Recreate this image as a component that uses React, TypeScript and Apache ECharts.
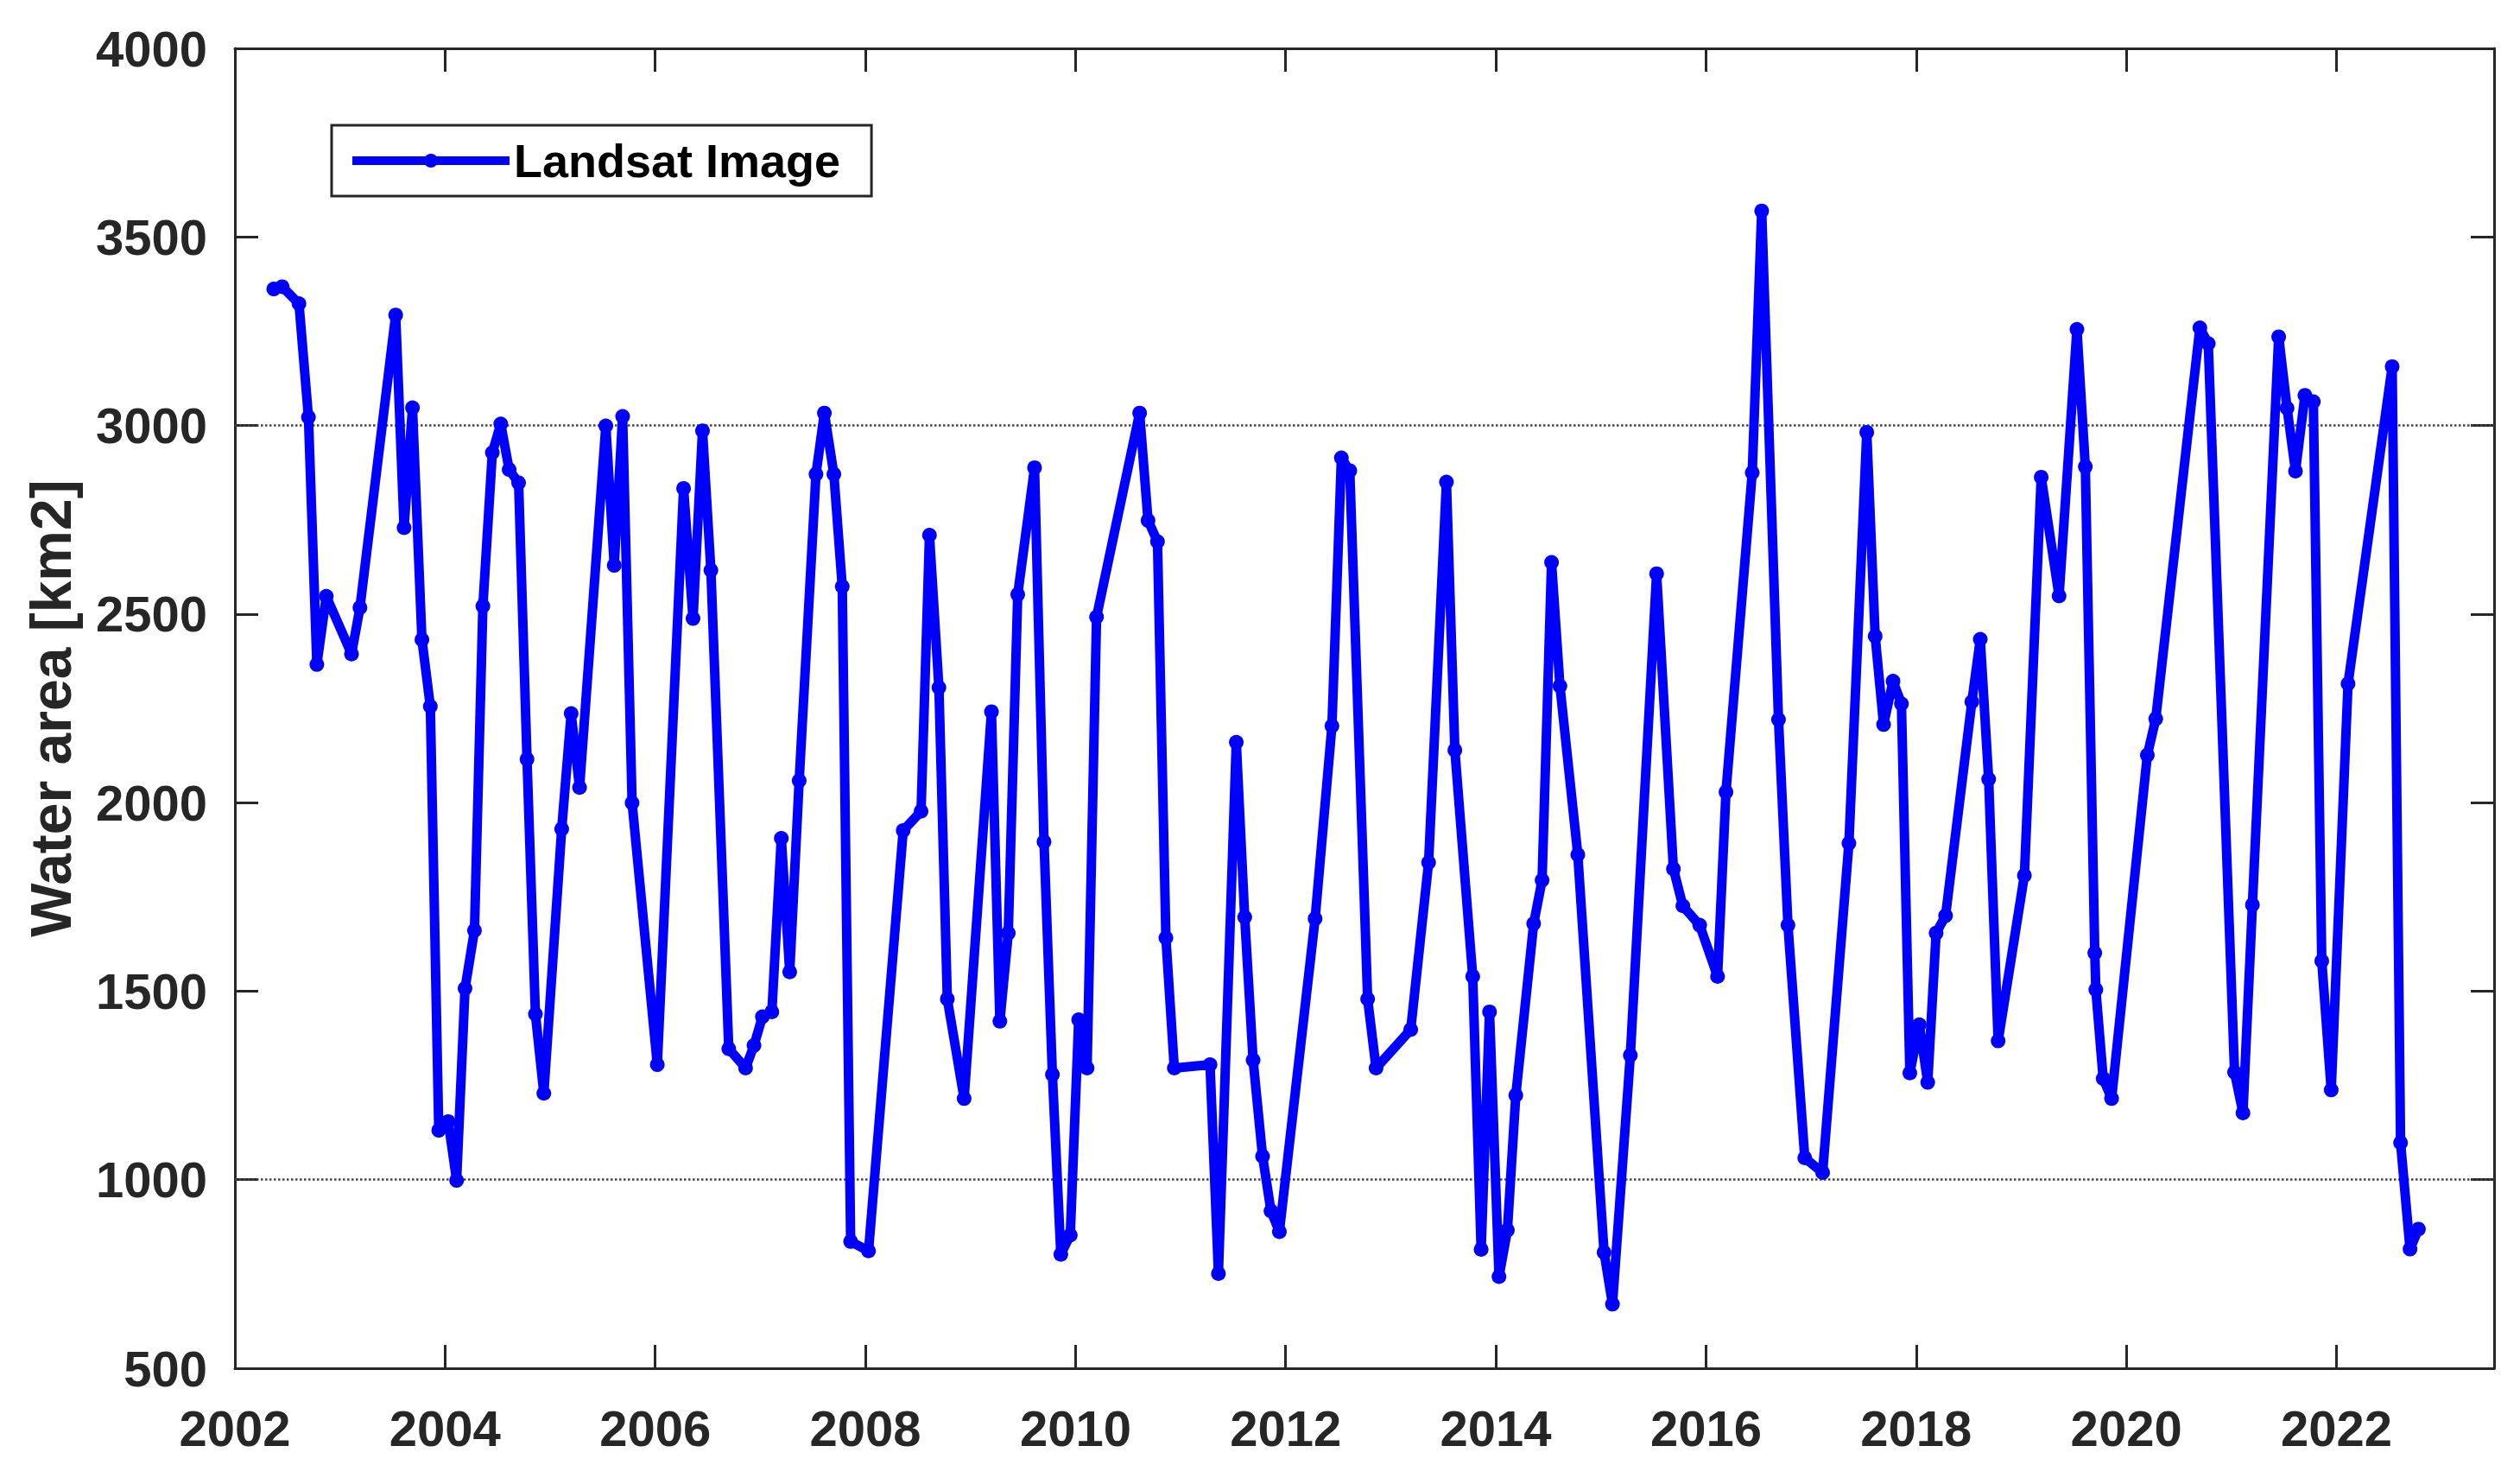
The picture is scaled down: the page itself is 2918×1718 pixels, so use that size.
import React, { useEffect, useRef } from "react";
import * as echarts from "echarts";

const years: number[] = [
  2002.37, 2002.45, 2002.61, 2002.70, 2002.78, 2002.87, 2003.11, 2003.19, 2003.53, 2003.61,
  2003.69, 2003.78, 2003.86, 2003.94, 2004.03, 2004.11, 2004.19, 2004.28, 2004.36, 2004.45,
  2004.53, 2004.61, 2004.70, 2004.78, 2004.86, 2004.94, 2005.11, 2005.20, 2005.28, 2005.53,
  2005.61, 2005.69, 2005.78, 2006.02, 2006.27, 2006.36, 2006.45, 2006.53, 2006.70, 2006.86,
  2006.94, 2007.02, 2007.11, 2007.20, 2007.28, 2007.37, 2007.53, 2007.61, 2007.70, 2007.78,
  2007.86, 2008.03, 2008.36, 2008.53, 2008.61, 2008.70, 2008.78, 2008.94, 2009.20, 2009.28,
  2009.36, 2009.45, 2009.61, 2009.70, 2009.78, 2009.86, 2009.95, 2010.03, 2010.11, 2010.20,
  2010.61, 2010.69, 2010.78, 2010.86, 2010.94, 2011.28, 2011.36, 2011.53, 2011.61, 2011.69,
  2011.78, 2011.86, 2011.94, 2012.28, 2012.44, 2012.53, 2012.61, 2012.78, 2012.86, 2013.19,
  2013.36, 2013.53, 2013.61, 2013.78, 2013.86, 2013.94, 2014.03, 2014.11, 2014.19, 2014.36,
  2014.44, 2014.53, 2014.61, 2014.78, 2015.03, 2015.11, 2015.28, 2015.53, 2015.69, 2015.78,
  2015.94, 2016.11, 2016.19, 2016.44, 2016.53, 2016.69, 2016.78, 2016.94, 2017.11, 2017.36,
  2017.53, 2017.61, 2017.69, 2017.78, 2017.86, 2017.94, 2018.03, 2018.11, 2018.19, 2018.28,
  2018.53, 2018.61, 2018.69, 2018.78, 2019.03, 2019.19, 2019.36, 2019.53, 2019.61, 2019.70,
  2019.71, 2019.78, 2019.86, 2020.20, 2020.28, 2020.70, 2020.78, 2021.03, 2021.11, 2021.20,
  2021.45, 2021.53, 2021.61, 2021.70, 2021.78, 2021.86, 2021.95, 2022.11, 2022.53, 2022.61,
  2022.70, 2022.78,
];

const waterArea: number[] = [
  3362, 3368, 3323, 3022, 2366, 2547, 2394, 2517, 3293, 2729,
  3047, 2432, 2255, 1131, 1154, 998, 1507, 1661, 2521, 2928,
  3004, 2883, 2848, 2115, 1439, 1229, 1930, 2236, 2040, 2999,
  2629, 3024, 1999, 1305, 2833, 2488, 2986, 2616, 1347, 1296,
  1356, 1432, 1445, 1905, 1551, 2058, 2871, 3033, 2871, 2573,
  836, 811, 1926, 1977, 2709, 2305, 1479, 1215, 2241, 1420,
  1654, 2552, 2888, 1896, 1279, 802, 853, 1424, 1296, 2492,
  3033, 2748, 2692, 1641, 1296, 1305, 751, 2160, 1696, 1317,
  1062, 917, 862, 1692, 2203, 2914, 2880, 1479, 1296, 1398,
  1841, 2850, 2139, 1539, 815, 1445, 743, 866, 1224, 1679,
  1794, 2637, 2309, 1862, 807, 670, 1330, 2607, 1824, 1726,
  1675, 1539, 2028, 2875, 3569, 2220, 1675, 1058, 1019, 1892,
  2982, 2441, 2207, 2322, 2262, 1283, 1411, 1258, 1654, 1700,
  2267, 2433, 2062, 1368, 1807, 2863, 2548, 3255, 2891, 1601,
  1504, 1268, 1215, 2126, 2222, 3259, 3217, 1285, 1177, 1729,
  3235, 3046, 2879, 3080, 3063, 1580, 1238, 2315, 3156, 1098,
  816, 869,
];

const refLines: number[] = [1000, 3000];

const seriesName = "Landsat Image";
const yAxisTitle = "Water area [km2]";

const FONT = "'Liberation Sans', Arial, Helvetica, sans-serif";
const AXIS_COLOR = "#262626";
const BLUE = "#0000ff";

export default function App() {
  const ref = useRef<HTMLDivElement>(null);

  useEffect(() => {
    if (!ref.current) return;
    const chart = echarts.init(ref.current, undefined, { renderer: "svg" });

    const axisLine = { show: true, onZero: false, lineStyle: { color: AXIS_COLOR, width: 3 } };
    const axisTick = { show: true, inside: true, length: 27, lineStyle: { color: AXIS_COLOR, width: 3 } };

    const xCommon = {
      type: "value" as const,
      min: 2002,
      max: 2023.5,
      interval: 2,
      splitLine: { show: false },
      axisLine,
      axisTick,
    };
    const yCommon = {
      type: "value" as const,
      min: 500,
      max: 4000,
      interval: 500,
      splitLine: { show: false },
      axisLine,
      axisTick,
    };

    chart.setOption({
      animation: false,
      backgroundColor: "#ffffff",
      grid: { left: 272, right: 30, top: 56, bottom: 134, containLabel: false },
      legend: {
        data: [seriesName],
        left: 384,
        top: 145,
        orient: "horizontal",
        padding: [14, 36, 14, 19],
        borderColor: AXIS_COLOR,
        borderWidth: 3,
        borderRadius: 0,
        backgroundColor: "#ffffff",
        itemWidth: 182,
        itemHeight: 20,
        lineStyle: { width: 10, color: BLUE },
        itemStyle: { color: BLUE },
        textStyle: { fontSize: 54, fontWeight: "bold", color: "#000000", fontFamily: FONT },
      },
      xAxis: [
        {
          ...xCommon,
          position: "bottom",
          axisLabel: {
            show: true,
            fontSize: 58,
            fontWeight: "bold",
            color: AXIS_COLOR,
            fontFamily: FONT,
            margin: 40,
            showMaxLabel: false,
            formatter: (v: number) => (Math.abs(v % 2) < 1e-9 ? String(v) : ""),
          },
        },
        {
          ...xCommon,
          position: "top",
          axisLabel: { show: false },
        },
      ],
      yAxis: [
        {
          ...yCommon,
          position: "left",
          name: yAxisTitle,
          nameLocation: "middle",
          nameGap: 180,
          nameRotate: 90,
          nameTextStyle: { fontSize: 66, fontWeight: "bold", color: AXIS_COLOR, fontFamily: FONT },
          axisLabel: {
            show: true,
            fontSize: 58,
            fontWeight: "bold",
            color: AXIS_COLOR,
            fontFamily: FONT,
            margin: 32,
            formatter: (v: number) => String(v),
          },
        },
        {
          ...yCommon,
          position: "right",
          axisLabel: { show: false },
        },
      ],
      series: [
        {
          name: seriesName,
          type: "line",
          xAxisIndex: 0,
          yAxisIndex: 0,
          data: years.map((y, i) => [y, waterArea[i]]),
          symbol: "circle",
          symbolSize: 17,
          showSymbol: true,
          lineStyle: { color: BLUE, width: 11 },
          itemStyle: { color: BLUE },
          z: 3,
          markLine: {
            z: 1,
            silent: true,
            symbol: "none",
            label: { show: false },
            lineStyle: { color: "#444444", width: 2.5, type: "dotted" },
            data: refLines.map((v) => ({ yAxis: v })),
          },
        },
      ],
    });

    return () => chart.dispose();
  }, []);

  return (
    <div
      ref={ref}
      style={{ position: "absolute", left: 0, top: 0, width: 2918, height: 1718, background: "#fff" }}
    />
  );
}
